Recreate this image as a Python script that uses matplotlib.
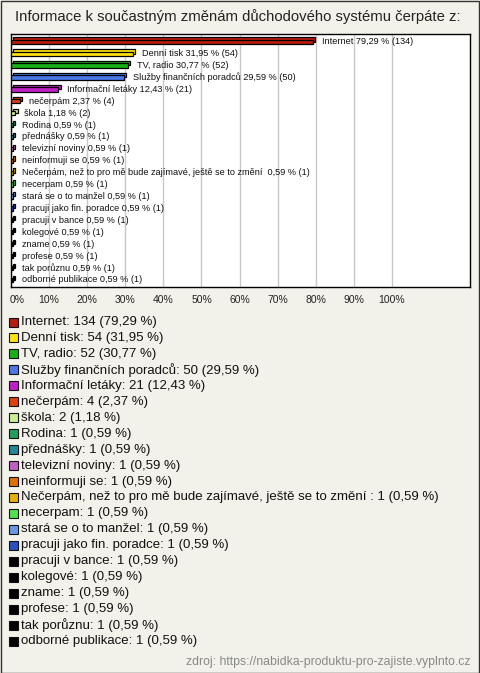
import matplotlib
matplotlib.use("Agg")
import matplotlib.pyplot as plt
from matplotlib.transforms import ScaledTranslation
from matplotlib.patches import Rectangle

title = "Informace k součastným změnám důchodového systému čerpáte z:"
categories = [
    "Internet", "Denní tisk", "TV, radio", "Služby finančních poradců",
    "Informační letáky", "nečerpám", "škola", "Rodina", "přednášky",
    "televizní noviny", "neinformuji se",
    "Nečerpám, než to pro mě bude zajímavé, ještě se to změní ",
    "necerpam", "stará se o to manžel", "pracuji jako fin. poradce",
    "pracuji v bance", "kolegové", "zname", "profese", "tak porůznu",
    "odborné publikace",
]
counts = [134, 54, 52, 50, 21, 4, 2, 1, 1, 1, 1, 1, 1, 1, 1, 1, 1, 1, 1, 1, 1]
percents = [79.29, 31.95, 30.77, 29.59, 12.43, 2.37, 1.18, 0.59, 0.59, 0.59,
            0.59, 0.59, 0.59, 0.59, 0.59, 0.59, 0.59, 0.59, 0.59, 0.59, 0.59]
colors = [
    "#B81C0C", "#FFE010", "#18B018", "#4A78E8", "#C020C8", "#E04010",
    "#C8F090", "#20A060", "#208898", "#C060C0", "#E07000", "#E8B000",
    "#50E050", "#6898E0", "#2850C0", "#000000", "#000000", "#000000",
    "#000000", "#000000", "#000000",
]
xticks = [0, 10, 20, 30, 40, 50, 60, 70, 80, 90, 100]
source = "zdroj: https://nabidka-produktu-pro-zajiste.vyplnto.cz"

def fmt(v):
    return f"{v:.2f}".replace(".", ",")

W, H = 480, 673
bg = "#F3F2EA"
fig = plt.figure(figsize=(W / 100, H / 100), dpi=100, facecolor=bg)
plt.rcParams["font.family"] = ["Liberation Sans", "DejaVu Sans"]

# outer border
fig.patches.append(Rectangle((0.5 / W, 0.5 / H), 1 - 1.5 / W, 1 - 1.5 / H,
                             transform=fig.transFigure, fill=False,
                             edgecolor="#333333", linewidth=1.0))

fig.text(238 / W, 1 - 17 / H, title, ha="center", va="center",
         fontsize=10.7, color="#222222")

left, right, top, bottom = 11, 470, 34, 287
ax = fig.add_axes([left / W, 1 - bottom / H, (right - left) / W, (bottom - top) / H])
ax.set_facecolor("white")
for s in ax.spines.values():
    s.set_color("black")
    s.set_linewidth(1.0)

n = len(categories)
ypos = list(range(n))
ax.set_xlim(0, 120.5)
ax.set_ylim(n - 0.4, -0.65)
ax.set_xticks(xticks)
ax.set_xticklabels([f"{t}%" for t in xticks], fontsize=7.5, color="#222222")
ax.tick_params(axis="x", length=0, pad=6)
first = ax.get_xticklabels()[0]
first.set_transform(first.get_transform() + ScaledTranslation(6 / 100, 0, fig.dpi_scale_trans))
ax.set_yticks([])
ax.grid(axis="x", color="#C8C8C8", linewidth=1.0)
ax.set_axisbelow(True)

h = 0.36
off = ScaledTranslation(2.2 / 100, 2.2 / 100, fig.dpi_scale_trans)
ax.barh(ypos, percents, height=h, color=colors, edgecolor="black",
        linewidth=0.9, transform=ax.transData + off, zorder=2)
ax.barh(ypos, percents, height=h, color=colors, edgecolor="black",
        linewidth=0.9, zorder=3)

for y, c, p, v in zip(ypos, categories, percents, counts):
    ax.annotate(f"{c} {fmt(p)} % ({v})", xy=(p, y), xytext=(9, 0),
                textcoords="offset pixels", va="center", ha="left",
                fontsize=6.6, color="#111111", zorder=4)

# legend
leg_top = 322
step = 15.95
for i, (c, p, v, col) in enumerate(zip(categories, percents, counts, colors)):
    yc = leg_top + i * step
    fig.patches.append(Rectangle((8.5 / W, 1 - (yc + 4.5) / H), 9 / W, 9 / H,
                                 transform=fig.transFigure, facecolor=col,
                                 edgecolor="#111111", linewidth=0.8))
    fig.text(21 / W, 1 - yc / H, f"{c}: {v} ({fmt(p)} %)",
             ha="left", va="center", fontsize=9.5, color="#111111")

fig.text(470 / W, 1 - 662 / H, source, ha="right", va="center",
         fontsize=8.8, color="#888888")

fig.savefig("out.png", dpi=100, facecolor=bg)
